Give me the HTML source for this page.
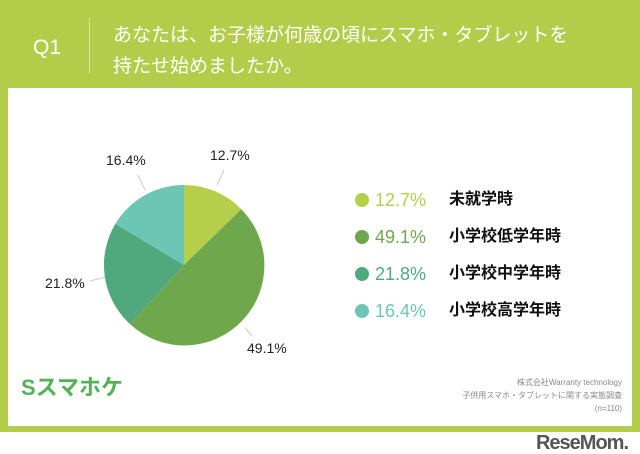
<!DOCTYPE html>
<html><head><meta charset="utf-8"><style>
body{margin:0;width:640px;height:453px;background:#fff;position:relative;overflow:hidden;font-family:"Liberation Sans","Noto Sans CJK JP",sans-serif}
.bg{position:absolute;left:0;top:0;width:640px;height:432px;background:#b3cd4b}
.panel{position:absolute;left:8px;top:88px;width:624px;height:338px;background:#fff}
.abs{position:absolute;white-space:nowrap}
</style></head><body>
<div class="bg"></div>
<div class="panel"></div>
<div class="abs" style="left:33px;top:36px;font-size:21px;color:#fff">Q1</div>
<div class="abs" style="left:89px;top:18px;width:1px;height:55px;background:#d6e4a0"></div>
<div class="abs" style="left:113px;top:20px;font-size:19px;line-height:31px;color:#fff">あなたは、お子様が何歳の頃にスマホ・タブレットを<br>持たせ始めましたか。</div>
<svg class="abs" style="left:0;top:0" width="640" height="453">
<g stroke="#ccc" stroke-width="1" fill="none">
<line x1="217" y1="185" x2="224" y2="170"/>
<line x1="145" y1="190" x2="138" y2="175"/>
<line x1="106" y1="277" x2="90" y2="281"/>
<line x1="245" y1="328" x2="252" y2="336"/>
</g>
<path d="M184,265 L184,185 A80,80 0 0 1 241.3,209.2 Z" fill="#b5cf4b"/>
<path d="M184,265 L241.3,209.2 A80,80 0 0 1 129.9,324 Z" fill="#6fa84c"/>
<path d="M184,265 L129.9,324 A80,80 0 0 1 115.4,223.8 Z" fill="#4fa97c"/>
<path d="M184,265 L115.4,223.8 A80,80 0 0 1 184,185 Z" fill="#6cc6b3"/>
<circle cx="362" cy="200" r="7" fill="#b5cf4b"/>
<circle cx="362" cy="237" r="7" fill="#6fa84c"/>
<circle cx="362" cy="274" r="7" fill="#4fa97c"/>
<circle cx="362" cy="311" r="7" fill="#6cc6b3"/>
</svg>
<div class="abs" style="left:210px;top:147px;font-size:14px;color:#222">12.7%</div>
<div class="abs" style="left:106px;top:152px;font-size:14px;color:#222">16.4%</div>
<div class="abs" style="left:45px;top:275px;font-size:14px;color:#222">21.8%</div>
<div class="abs" style="left:247px;top:340px;font-size:14px;color:#222">49.1%</div>
<div class="abs" style="left:375px;top:190px;font-size:18px;line-height:20px;color:#b5cf4b">12.7%</div>
<div class="abs" style="left:375px;top:227px;font-size:18px;line-height:20px;color:#6fa84c">49.1%</div>
<div class="abs" style="left:375px;top:264px;font-size:18px;line-height:20px;color:#4fa97c">21.8%</div>
<div class="abs" style="left:375px;top:301px;font-size:18px;line-height:20px;color:#6cc6b3">16.4%</div>
<div class="abs" style="left:449px;top:190px;font-size:16px;line-height:20px;color:#111;font-weight:bold">未就学時</div>
<div class="abs" style="left:449px;top:227px;font-size:16px;line-height:20px;color:#111;font-weight:bold">小学校低学年時</div>
<div class="abs" style="left:449px;top:264px;font-size:16px;line-height:20px;color:#111;font-weight:bold">小学校中学年時</div>
<div class="abs" style="left:449px;top:301px;font-size:16px;line-height:20px;color:#111;font-weight:bold">小学校高学年時</div>
<div class="abs" style="left:21px;top:375px;font-size:22px;font-weight:bold;color:#52b356;line-height:26px">Sスマホケ</div>
<div class="abs" style="right:18px;top:376px;font-size:8px;line-height:13px;color:#888;text-align:right">株式会社Warranty technology<br>子供用スマホ・タブレットに関する実態調査<br>(n=110)</div>
<div class="abs" style="right:12px;top:432px;font-size:20px;font-weight:bold;color:#555;line-height:22px;letter-spacing:-1px">ReseMom.</div>
</body></html>
